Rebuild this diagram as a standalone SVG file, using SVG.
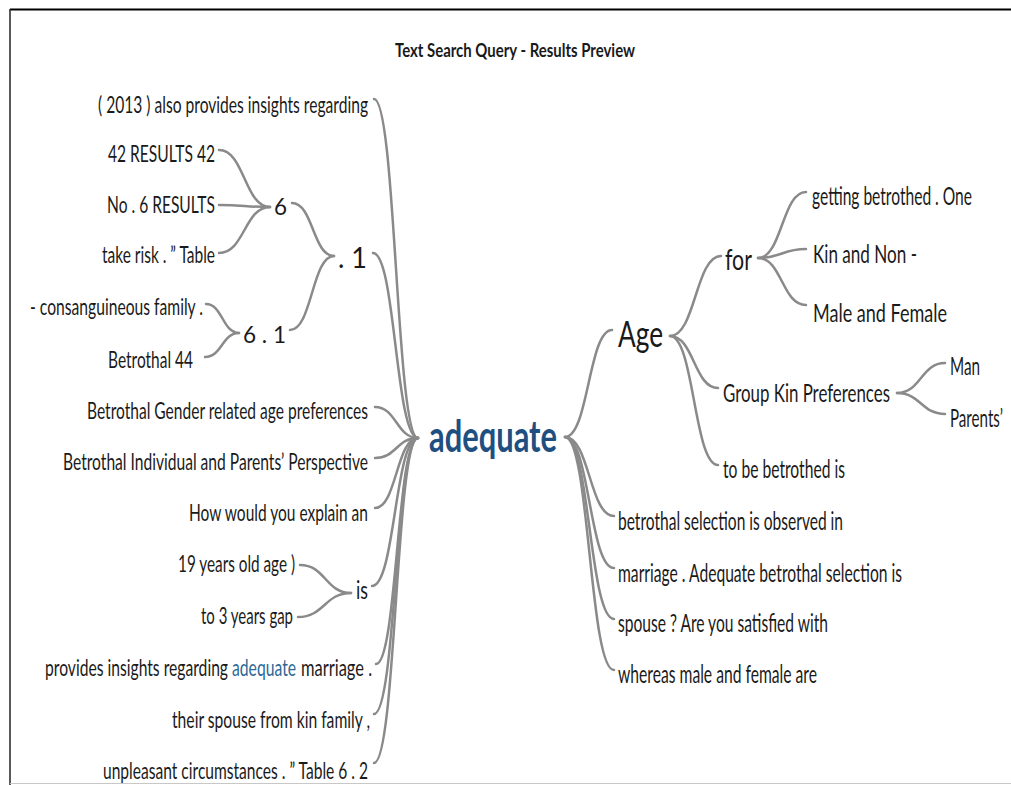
<svg xmlns="http://www.w3.org/2000/svg" width="1011" height="785" viewBox="0 0 1011 785">
<style>
text{font-family:Lato,"Liberation Sans",sans-serif;fill:#1a1a1a}
.lf{font-size:23px}
.rl{font-size:25px}
.mid{font-size:25px}
.title{font-size:18px;font-weight:bold}
.root{font-size:44px;font-weight:bold;fill:#1f4f80}
.hl{fill:#2c6796}
.c path{fill:none;stroke:#8a8a8a;stroke-width:2.5;stroke-linecap:round}
</style>
<rect width="1011" height="785" fill="#fff"/>
<line x1="10" y1="9.5" x2="1011" y2="9.5" stroke="#000" stroke-width="2"/>
<line x1="10" y1="9" x2="10" y2="785" stroke="#222" stroke-width="1.5"/>
<line x1="10" y1="783.5" x2="1011" y2="783.5" stroke="#c8c8c8" stroke-width="1"/>
<text id="title" class="title" transform="matrix(0.73 0 0 1 395 57)" textLength="328.8" lengthAdjust="spacingAndGlyphs">Text Search Query - Results Preview</text>
<g class="c" id="connectors">
<path d="M270,207 C244.5,207 244.5,150 219,150"/>
<path d="M270,207 C244.5,207 244.5,205 219,205"/>
<path d="M270,207 C244.5,207 244.5,253 219,253"/>
<path d="M239,333 C222.5,333 222.5,304 206,304"/>
<path d="M239,333 C222,333 222,357 205,357"/>
<path d="M334,256 C313,256 313,203 292,203"/>
<path d="M334,256 C312,256 312,330 290,330"/>
<path d="M351,593 C325.5,593 325.5,565 300,565"/>
<path d="M351,593 C324.5,593 324.5,617 298,617"/>
<path d="M418,438 C396,438 396,99 374,99"/>
<path d="M418,438 C395.5,438 395.5,253 373,253"/>
<path d="M418,438 C396.5,438 396.5,407 375,407"/>
<path d="M418,438 C396.5,438 396.5,458 375,458"/>
<path d="M418,438 C396.5,438 396.5,508 375,508"/>
<path d="M418,438 C395,438 395,586 372,586"/>
<path d="M418,438 C397,438 397,664 376,664"/>
<path d="M418,438 C396,438 396,714 374,714"/>
<path d="M418,438 C396,438 396,763 374,763"/>
<path d="M565,437 C588.5,437 588.5,330 612,330"/>
<path d="M565,437 C589.5,437 589.5,516 614,516"/>
<path d="M565,437 C589.5,437 589.5,568 614,568"/>
<path d="M565,437 C589.5,437 589.5,619 614,619"/>
<path d="M565,437 C589.5,437 589.5,670 614,670"/>
<path d="M670,336 C695.5,336 695.5,256 721,256"/>
<path d="M670,336 C694,336 694,388 718,388"/>
<path d="M670,336 C694,336 694,465 718,465"/>
<path d="M758,258 C782,258 782,192 806,192"/>
<path d="M758,258 C782,258 782,249 806,249"/>
<path d="M758,258 C782,258 782,305 806,305"/>
<path d="M897,393 C921,393 921,363 945,363"/>
<path d="M897,393 C921,393 921,414 945,414"/>
</g>
<g id="root"><text class="root" transform="matrix(0.66 0 0 1 429 452)" textLength="193.9" lengthAdjust="spacingAndGlyphs">adequate</text></g>
<g id="n-2013"><text class="lf" transform="matrix(0.66 0 0 1 98 113)" textLength="409.1" lengthAdjust="spacingAndGlyphs">( 2013 ) also provides insights regarding</text></g>
<g id="n-42"><text class="lf" transform="matrix(0.66 0 0 1 108 162)" textLength="162.1" lengthAdjust="spacingAndGlyphs">42 RESULTS 42</text></g>
<g id="n-no6"><text class="lf" transform="matrix(0.66 0 0 1 107 213)" textLength="163.6" lengthAdjust="spacingAndGlyphs">No . 6 RESULTS</text></g>
<g id="n-takerisk"><text class="lf" transform="matrix(0.66 0 0 1 102 263)" textLength="171.2" lengthAdjust="spacingAndGlyphs">take risk . ” Table</text></g>
<g id="n-consang"><text class="lf" transform="matrix(0.66 0 0 1 30 315)" textLength="262.1" lengthAdjust="spacingAndGlyphs">- consanguineous family .</text></g>
<g id="n-betrothal44"><text class="lf" transform="matrix(0.66 0 0 1 108 368)" textLength="128.8" lengthAdjust="spacingAndGlyphs">Betrothal 44</text></g>
<g id="n-6"><text class="lf" transform="matrix(0.66 0 0 1 274 215)" textLength="19.7" lengthAdjust="spacingAndGlyphs">6</text></g>
<g id="n-dot1"><text class="mid" style="font-size:28px" transform="matrix(0.66 0 0 1 338 268)" textLength="43.9" lengthAdjust="spacingAndGlyphs">. 1</text></g>
<g id="n-61"><text class="lf" style="font-size:24px" transform="matrix(0.66 0 0 1 243 343)" textLength="65.2" lengthAdjust="spacingAndGlyphs">6 . 1</text></g>
<g id="n-gender"><text class="lf" transform="matrix(0.66 0 0 1 87 419)" textLength="425.8" lengthAdjust="spacingAndGlyphs">Betrothal Gender related age preferences</text></g>
<g id="n-individual"><text class="lf" transform="matrix(0.66 0 0 1 63 470)" textLength="462.1" lengthAdjust="spacingAndGlyphs">Betrothal Individual and Parents’ Perspective</text></g>
<g id="n-howwould"><text class="lf" transform="matrix(0.66 0 0 1 189 521)" textLength="271.2" lengthAdjust="spacingAndGlyphs">How would you explain an</text></g>
<g id="n-19years"><text class="lf" transform="matrix(0.66 0 0 1 178 572)" textLength="177.3" lengthAdjust="spacingAndGlyphs">19 years old age )</text></g>
<g id="n-is"><text class="mid" transform="matrix(0.66 0 0 1 356 599)" textLength="18.2" lengthAdjust="spacingAndGlyphs">is</text></g>
<g id="n-3years"><text class="lf" transform="matrix(0.66 0 0 1 201 624)" textLength="139.4" lengthAdjust="spacingAndGlyphs">to 3 years gap</text></g>
<g id="n-provides">
<text class="lf" transform="matrix(0.66 0 0 1 45 676)" textLength="277.3" lengthAdjust="spacingAndGlyphs">provides insights regarding</text>
<text class="lf hl" transform="matrix(0.66 0 0 1 232 676)" textLength="97" lengthAdjust="spacingAndGlyphs">adequate</text>
<text class="lf" transform="matrix(0.66 0 0 1 301 676)" textLength="107.6" lengthAdjust="spacingAndGlyphs">marriage .</text>
</g>
<g id="n-spouse-kin"><text class="lf" transform="matrix(0.66 0 0 1 172 728)" textLength="300" lengthAdjust="spacingAndGlyphs">their spouse from kin family ,</text></g>
<g id="n-unpleasant"><text class="lf" transform="matrix(0.66 0 0 1 103 779)" textLength="401.5" lengthAdjust="spacingAndGlyphs">unpleasant circumstances . ” Table 6 . 2</text></g>
<g id="n-age"><text style="font-size:37px" transform="matrix(0.66 0 0 1 618 347)" textLength="68.2" lengthAdjust="spacingAndGlyphs">Age</text></g>
<g id="n-for"><text style="font-size:29px" transform="matrix(0.66 0 0 1 725 270)" textLength="40.9" lengthAdjust="spacingAndGlyphs">for</text></g>
<g id="n-getting"><text class="rl" transform="matrix(0.66 0 0 1 812 205)" textLength="242.4" lengthAdjust="spacingAndGlyphs">getting betrothed . One</text></g>
<g id="n-kin"><text class="rl" transform="matrix(0.66 0 0 1 813 263)" textLength="157.6" lengthAdjust="spacingAndGlyphs">Kin and Non -</text></g>
<g id="n-male"><text class="rl" transform="matrix(0.66 0 0 1 813 322)" textLength="203" lengthAdjust="spacingAndGlyphs">Male and Female</text></g>
<g id="n-group"><text class="rl" transform="matrix(0.66 0 0 1 723 402)" textLength="253" lengthAdjust="spacingAndGlyphs">Group Kin Preferences</text></g>
<g id="n-man"><text class="rl" transform="matrix(0.66 0 0 1 950 375)" textLength="45.5" lengthAdjust="spacingAndGlyphs">Man</text></g>
<g id="n-parents"><text class="rl" transform="matrix(0.66 0 0 1 950 427)" textLength="80.3" lengthAdjust="spacingAndGlyphs">Parents’</text></g>
<g id="n-tobe"><text class="rl" transform="matrix(0.66 0 0 1 723 478)" textLength="184.8" lengthAdjust="spacingAndGlyphs">to be betrothed is</text></g>
<g id="n-selection"><text class="rl" transform="matrix(0.66 0 0 1 618 530)" textLength="340.9" lengthAdjust="spacingAndGlyphs">betrothal selection is observed in</text></g>
<g id="n-marriage"><text class="rl" transform="matrix(0.66 0 0 1 618 582)" textLength="430.3" lengthAdjust="spacingAndGlyphs">marriage . Adequate betrothal selection is</text></g>
<g id="n-spouse"><text class="rl" transform="matrix(0.66 0 0 1 618 632)" textLength="318.2" lengthAdjust="spacingAndGlyphs">spouse ? Are you satisfied with</text></g>
<g id="n-whereas"><text class="rl" transform="matrix(0.66 0 0 1 618 683)" textLength="301.5" lengthAdjust="spacingAndGlyphs">whereas male and female are</text></g>
</svg>
